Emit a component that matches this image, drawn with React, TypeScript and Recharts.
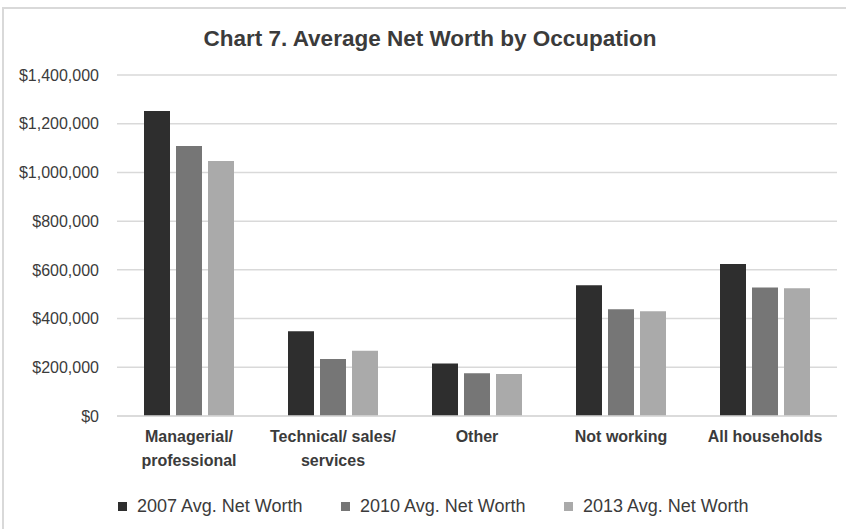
import React from 'react';
import { BarChart, Bar, XAxis, YAxis, CartesianGrid, Legend } from 'recharts';

const categories = ['Managerial/\nprofessional', 'Technical/ sales/\nservices', 'Other', 'Not working', 'All households'];
const values2007 = [1252000, 348000, 216000, 537000, 624000];
const values2010 = [1108000, 234000, 176000, 438000, 528000];
const values2013 = [1047000, 268000, 172000, 430000, 525000];
const yTicks = [0, 200000, 400000, 600000, 800000, 1000000, 1200000, 1400000];
const seriesNames = ['2007 Avg. Net Worth', '2010 Avg. Net Worth', '2013 Avg. Net Worth'];
const seriesColors = ['#2e2e2e', '#767676', '#aaaaaa'];

const data = categories.map((c, i) => ({
  name: c,
  v2007: values2007[i],
  v2010: values2010[i],
  v2013: values2013[i],
}));

const FONT = '"Liberation Sans", Arial, sans-serif';
const TEXT = '#3b3b3b';

const fmt = (v: number) => '$' + v.toLocaleString('en-US');

const CatTick = (props: any) => {
  const { x, y, payload } = props;
  const lines = String(payload.value).split('\n');
  return (
    <text x={x} y={y} textAnchor="middle" fill={TEXT} fontFamily={FONT} fontWeight="bold" fontSize={16}>
      {lines.map((l: string, i: number) => (
        <tspan key={i} x={x} dy={i === 0 ? 18 : 24}>{l}</tspan>
      ))}
    </text>
  );
};

const LegendContent = () => (
  <div style={{ display: 'flex', fontFamily: FONT, fontSize: 18, color: TEXT, paddingLeft: 118, paddingTop: 5 }}>
    {seriesNames.map((n, i) => (
      <div key={n} style={{ display: 'flex', alignItems: 'center', width: i < 2 ? 223 : 200 }}>
        <span style={{ display: 'inline-block', width: 9, height: 9, background: seriesColors[i], marginRight: 10 }} />
        <span>{n}</span>
      </div>
    ))}
  </div>
);

export default function App() {
  return (
    <div style={{ position: 'absolute', left: 0, top: 0, width: 846, height: 529, overflow: 'hidden', background: '#fff' }}>
      <div style={{ position: 'absolute', left: 2, top: 7, width: 900, height: 600, border: '2px solid #d9d9d9' }} />
      <div style={{ position: 'absolute', left: 0, top: 26, width: 860, textAlign: 'center', fontFamily: FONT, fontWeight: 'bold', fontSize: 22.5, color: TEXT }}>
        Chart 7. Average Net Worth by Occupation
      </div>
      <div style={{ position: 'absolute', left: 0, top: 0 }}>
        <BarChart width={846} height={529} data={data} margin={{ top: 75, right: 9, bottom: 0, left: 0 }} barSize={26} barGap={6}>
          <CartesianGrid vertical={false} stroke="#d9d9d9" strokeWidth={1.5} />
          <XAxis dataKey="name" tick={<CatTick />} tickLine={false} axisLine={{ stroke: '#d9d9d9', strokeWidth: 1.5 }} height={75} interval={0} />
          <YAxis
            width={117}
            domain={[0, 1400000]}
            ticks={yTicks}
            tickFormatter={fmt}
            axisLine={false}
            tickLine={false}
            tickSize={0}
            tickMargin={18}
            tick={{ fill: TEXT, fontFamily: FONT, fontSize: 16 }}
          />
          <Legend verticalAlign="bottom" content={<LegendContent />} wrapperStyle={{ height: 38 }} />
          <Bar dataKey="v2007" name={seriesNames[0]} fill={seriesColors[0]} isAnimationActive={false} />
          <Bar dataKey="v2010" name={seriesNames[1]} fill={seriesColors[1]} isAnimationActive={false} />
          <Bar dataKey="v2013" name={seriesNames[2]} fill={seriesColors[2]} isAnimationActive={false} />
        </BarChart>
      </div>
    </div>
  );
}
